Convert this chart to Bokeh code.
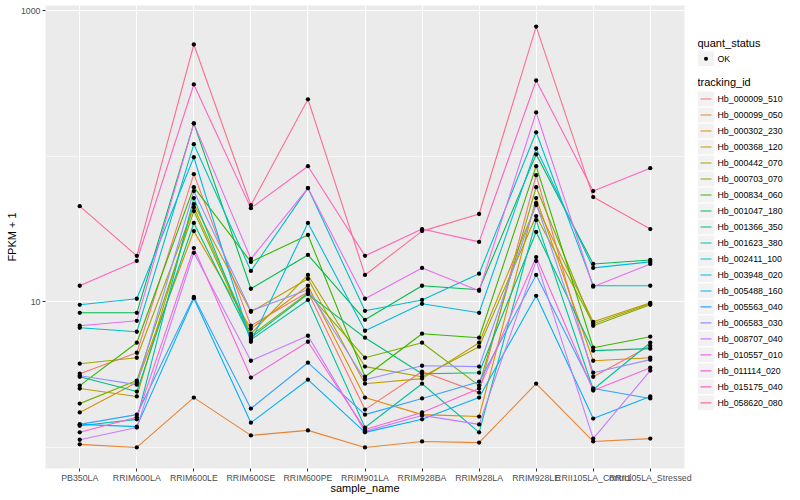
from bokeh.plotting import figure
from bokeh.models import FactorRange, Range1d, FixedTicker, PrintfTickFormatter
from bokeh.layouts import row
from bokeh.embed import file_html
from bokeh.resources import INLINE
from bokeh.core.properties import value

samples = ["PB350LA", "RRIM600LA", "RRIM600LE", "RRIM600SE", "RRIM600PE", "RRIM901LA",
           "RRIM928BA", "RRIM928LA", "RRIM928LE", "RRII105LA_Control", "RRII105LA_Stressed"]

tracking_ids = ["Hb_000009_510", "Hb_000099_050", "Hb_000302_230", "Hb_000368_120", "Hb_000442_070",
                "Hb_000703_070", "Hb_000834_060", "Hb_001047_180", "Hb_001366_350", "Hb_001623_380",
                "Hb_002411_100", "Hb_003948_020", "Hb_005488_160", "Hb_005563_040", "Hb_006583_030",
                "Hb_008707_040", "Hb_010557_010", "Hb_011114_020", "Hb_015175_040", "Hb_058620_080"]

colors = ["#F8766D", "#EA8331", "#D89000", "#C09B00", "#A3A500", "#7CAE00", "#39B600", "#00BB4E",
          "#00BF7D", "#00C1A3", "#00BFC4", "#00BAE0", "#00B0F6", "#35A2FF", "#9590FF", "#C77CFF",
          "#E76BF3", "#FA62DB", "#FF62BC", "#FF6C91"]

# FPKM + 1 per sample (order as in `samples`)
hb_000009_510 = [3.21, 4.47, 75.3, 6.85, 11.7, 1.82, 3.32, 2.38, 74.1, 3.06, 4.99]
hb_000099_050 = [1.05, 1.00, 2.20, 1.21, 1.31, 1.00, 1.10, 1.08, 2.74, 1.10, 1.15]
hb_000302_230 = [1.74, 2.79, 30.6, 6.53, 12.9, 2.20, 1.68, 1.63, 51.6, 3.94, 4.13]
hb_000368_120 = [2.54, 2.24, 46.9, 8.54, 14.4, 2.74, 2.97, 5.24, 46.2, 7.29, 9.84]
hb_000442_070 = [3.76, 4.13, 44.7, 6.04, 15.3, 3.59, 3.06, 4.92, 38.8, 7.07, 9.69]
hb_000703_070 = [2.00, 2.88, 42.0, 5.85, 11.5, 4.13, 5.24, 2.66, 61.3, 6.85, 9.54]
hb_000834_060 = [2.66, 5.24, 61.3, 18.8, 28.8, 3.06, 6.04, 5.67, 85.4, 4.84, 5.76]
hb_001047_180 = [8.41, 8.41, 168.0, 12.3, 21.0, 7.53, 12.9, 12.1, 103.0, 18.2, 19.4]
hb_001366_350 = [3.06, 2.42, 34.8, 5.67, 11.3, 5.67, 3.21, 3.26, 30.2, 4.62, 4.77]
hb_001623_380 = [1.41, 1.56, 51.6, 5.49, 10.3, 1.37, 2.74, 1.27, 36.4, 2.50, 5.24]
hb_002411_100 = [6.64, 6.23, 121.0, 16.3, 60.4, 8.68, 10.3, 15.6, 146.0, 12.9, 12.9]
hb_003948_020 = [9.54, 10.5, 98.4, 5.32, 34.8, 6.33, 9.69, 8.41, 113.0, 17.1, 18.8]
hb_005488_160 = [1.44, 1.39, 10.6, 1.48, 2.92, 1.27, 1.56, 2.20, 11.0, 1.58, 2.24]
hb_005563_040 = [1.44, 1.68, 10.8, 1.85, 3.82, 1.68, 2.17, 2.83, 15.3, 2.54, 2.17]
hb_006583_030 = [3.11, 2.70, 57.6, 8.68, 12.1, 2.92, 3.64, 3.59, 47.7, 3.26, 4.01]
hb_008707_040 = [1.13, 1.37, 21.7, 3.94, 5.85, 1.29, 1.66, 1.44, 19.1, 1.15, 3.37]
hb_010557_010 = [6.85, 7.41, 168.0, 19.7, 60.4, 10.5, 17.1, 11.9, 200.0, 12.7, 18.2]
hb_011114_020 = [1.27, 1.61, 23.4, 3.02, 5.32, 1.33, 1.74, 2.54, 20.3, 2.46, 3.53]
hb_015175_040 = [12.9, 19.1, 311.0, 44.0, 85.4, 20.7, 31.6, 25.8, 331.0, 57.6, 82.8]
hb_058620_080 = [45.4, 20.7, 585.0, 46.2, 246.0, 15.3, 30.6, 40.1, 777.0, 52.4, 31.6]

series = [hb_000009_510, hb_000099_050, hb_000302_230, hb_000368_120, hb_000442_070,
          hb_000703_070, hb_000834_060, hb_001047_180, hb_001366_350, hb_001623_380,
          hb_002411_100, hb_003948_020, hb_005488_160, hb_005563_040, hb_006583_030,
          hb_008707_040, hb_010557_010, hb_011114_020, hb_015175_040, hb_058620_080]

y_major = [10, 1000]
y_minor = [1, 100]

FONT = "Liberation Sans"
H = 500

p = figure(width=697, height=H, output_backend="svg", toolbar_location=None,
           x_range=FactorRange(factors=samples, range_padding=0.1, range_padding_units="absolute"),
           y_range=Range1d(10 ** -0.1445, 10 ** 3.035), y_axis_type="log",
           background_fill_color="#EBEBEB", border_fill_color="white",
           min_border_left=45, min_border_right=13, min_border_top=5, min_border_bottom=32)
p.outline_line_color = None

for vals, col in zip(series, colors):
    p.line(samples, vals, line_color=col, line_width=1.1)
for vals in series:
    p.scatter(samples, vals, size=4.3, fill_color="black", line_color=None)

p.yaxis.ticker = FixedTicker(ticks=y_major, minor_ticks=y_minor)
p.yaxis.formatter = PrintfTickFormatter(format="%d")
p.xgrid.grid_line_color = "white"
p.xgrid.grid_line_width = 1.1
p.ygrid.grid_line_color = "white"
p.ygrid.grid_line_width = 1.1
p.ygrid.minor_grid_line_color = "white"
p.ygrid.minor_grid_line_width = 0.55

for ax in (p.xaxis, p.yaxis):
    ax.axis_line_color = None
    ax.major_tick_line_color = "#333333"
    ax.major_tick_out = 3
    ax.major_tick_in = 0
    ax.minor_tick_line_color = None
    ax.major_label_text_font = FONT
    ax.major_label_text_font_size = "8.8px"
    ax.major_label_text_color = "#4D4D4D"
    ax.major_label_standoff = 1
    ax.axis_label_text_font = FONT
    ax.axis_label_text_font_size = "11px"
    ax.axis_label_text_font_style = "normal"
    ax.axis_label_text_color = "black"
p.xaxis.axis_label_standoff = -4
p.yaxis.axis_label_standoff = 0
p.xaxis.axis_label = "sample_name"
p.yaxis.axis_label = "FPKM + 1"

# legend panel
leg = figure(width=103, height=H, output_backend="svg", toolbar_location=None,
             x_range=Range1d(0, 103), y_range=Range1d(H, 0),
             x_axis_location=None, y_axis_location=None, min_border=0)
leg.outline_line_color = None
leg.grid.visible = False

leg.text(x=[0], y=[40], text=["quant_status"], text_font=value(FONT), text_font_size="11px",
         text_baseline="middle", text_color="black")
leg.rect(x=[8.5], y=[57.5], width=17, height=17, fill_color="#F2F2F2", line_color="white")
leg.scatter(x=[8.5], y=[57.5], size=4, fill_color="black", line_color=None)
leg.text(x=[20], y=[57.5], text=["OK"], text_font=value(FONT), text_font_size="8.8px",
         text_baseline="middle", text_color="black")

leg.text(x=[0], y=[83], text=["tracking_id"], text_font=value(FONT), text_font_size="11px",
         text_baseline="middle", text_color="black")
row_y = [101 + 17.27 * i for i in range(len(tracking_ids))]
leg.rect(x=[8.5] * len(row_y), y=row_y, width=17, height=17.27, fill_color="#F2F2F2", line_color="white")
leg.segment(x0=[3] * len(row_y), y0=row_y, x1=[14] * len(row_y), y1=row_y, line_color=colors, line_width=1.1)
leg.text(x=[20] * len(row_y), y=row_y, text=tracking_ids, text_font=value(FONT), text_font_size="8.8px",
         text_baseline="middle", text_color="black")

layout = row(p, leg)
open("out.html", "w").write(file_html(layout, INLINE))
